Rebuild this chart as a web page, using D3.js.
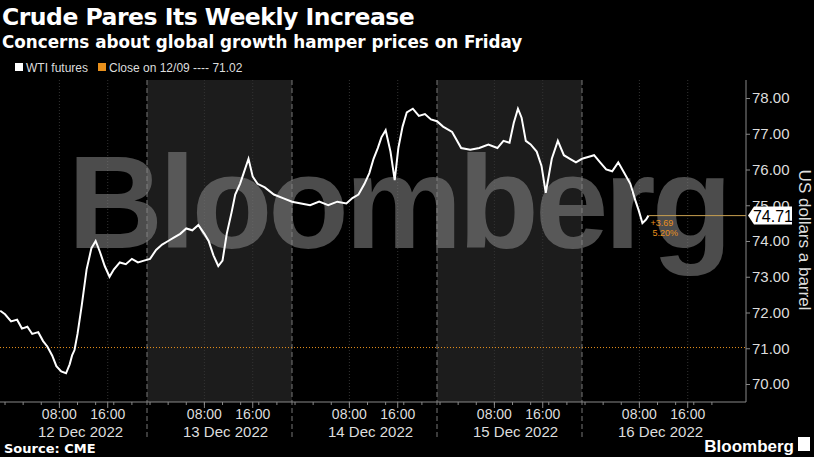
<!DOCTYPE html><html><head><meta charset="utf-8"><script src="https://cdn.jsdelivr.net/npm/d3@7"></script>
<style>body{margin:0;background:#000}</style></head><body><svg id="c" width="814" height="457"></svg>
<script>
// hours since 12 Dec session start, price
const hours=[-0.3,0.5,1.5,2.5,3.3,4.2,5,6,6.8,7.5,8.3,9,9.8,10.6,11.2,11.6,12,12.5,13.2,14,14.8,15.5,16.2,17,17.8,18.5,19.5,20.5,21.5,22.5,23.5,24.5,25.5,26.5,27.5,28.5,29.5,30.5,31.5,32.5,33.5,34.2,35,35.8,36.5,37.2,38,38.6,39.4,40,40.8,41.5,42.3,43.5,45,46.5,48,49.5,51,52.5,54,55.5,57,58,59,60,60.8,61.5,62.2,62.8,63.5,64.3,65,65.6,66.3,67,68,69,70,71,72,73,74.5,76,77.5,79,80.5,82,83,84,84.7,85.4,86,86.7,87.5,88.5,89.3,90,91,92,93,94,95,96,97,98,99,100,101,102,103,104,104.8,105.4,106,106.6,107];
const prices=[72.05,71.95,71.75,71.8,71.55,71.6,71.4,71.45,71.2,71.05,70.8,70.5,70.35,70.3,70.55,70.8,70.95,71.4,72.2,73.2,73.8,74.0,73.7,73.3,73.0,73.2,73.4,73.35,73.5,73.4,73.45,73.5,73.75,73.9,74.0,74.1,74.2,74.35,74.3,74.45,74.2,74.0,73.6,73.3,73.45,74.2,74.8,75.3,75.6,75.9,76.3,75.8,75.6,75.5,75.3,75.2,75.1,75.05,75.0,75.1,75.0,75.1,75.05,75.2,75.3,75.6,75.9,76.3,76.6,76.9,77.1,76.5,75.7,76.6,77.2,77.6,77.7,77.5,77.55,77.4,77.35,77.2,77.05,76.6,76.55,76.6,76.7,76.6,76.8,76.75,77.3,77.7,77.45,76.8,76.7,76.5,76.1,75.35,76.3,76.8,76.4,76.3,76.2,76.3,76.35,76.4,76.2,76.0,75.95,76.2,75.9,75.6,75.15,74.85,74.5,74.6,74.71];
const yTicks=[70,71,72,73,74,75,76,77,78];
const days=["12 Dec 2022","13 Dec 2022","14 Dec 2022","15 Dec 2022","16 Dec 2022"];
const closePrev=71.02, last=74.71, lastH=107;
const svg=d3.select("#c"), W=746, T=80, B=402;
svg.append("rect").attr("width",814).attr("height",457).attr("fill","#000");
const x=d3.scaleLinear().domain([0,24]).range([2,147]);
const y=d3.scaleLinear().domain([70,78]).range([384,98]);
[1,3].forEach(i=>svg.append("rect").attr("x",x(24*i)).attr("y",T).attr("width",x(24)-x(0)).attr("height",B-T).attr("fill","#1c1c1c"));
[1,2,3,4].forEach(i=>svg.append("line").attr("x1",x(24*i)).attr("x2",x(24*i)).attr("y1",T).attr("y2",B+36).attr("stroke","#777").attr("stroke-dasharray","5,3"));
days.forEach((d,i)=>[9.5,17.5].forEach(h=>svg.append("line").attr("x1",x(24*i+h)).attr("x2",x(24*i+h)).attr("y1",T).attr("y2",B).attr("stroke","#333").attr("stroke-dasharray","1,2")));
svg.append("text").attr("x",398).attr("y",248).attr("text-anchor","middle").attr("font-family","Liberation Sans,Arial").attr("font-weight","bold").attr("font-size",132).attr("fill","#8a8a8a").attr("opacity",0.55).attr("letter-spacing",-4).text("Bloomberg");
svg.append("line").attr("x1",0).attr("x2",W).attr("y1",y(closePrev)).attr("y2",y(closePrev)).attr("stroke","#e8901c").attr("stroke-dasharray","1,2");
svg.append("line").attr("x1",x(lastH)).attr("x2",W).attr("y1",y(last)).attr("y2",y(last)).attr("stroke","#c8a050").attr("stroke-width",1);
svg.append("path").datum(hours.map((h,i)=>[h,prices[i]])).attr("d",d3.line().x(d=>x(d[0])).y(d=>y(d[1]))).attr("fill","none").attr("stroke","#fff").attr("stroke-width",2);
svg.append("text").attr("x",x(lastH)+2).attr("y",y(last)+10).attr("fill","#e8901c").attr("font-size",9).attr("font-family","Liberation Sans").text("+3.69");
svg.append("text").attr("x",x(lastH)+4).attr("y",y(last)+20).attr("fill","#e8901c").attr("font-size",9).attr("font-family","Liberation Sans").text("5.20%");
const ya=svg.append("g").attr("transform",`translate(${W},0)`).call(d3.axisRight(y).tickValues(yTicks).tickFormat(d3.format(".2f")).tickSize(4));
ya.select(".domain").attr("stroke","#888").attr("d",`M0,${T}V${B}`);
ya.selectAll("line").attr("stroke","#888");
ya.selectAll("text").attr("fill","#ddd").attr("font-size",15).attr("font-family","Liberation Sans Narrow,Liberation Sans").attr("x",6);
const lg=svg.append("g").attr("transform",`translate(${W+2},${y(last)})`);
lg.append("path").attr("d","M0,0L6,-9H44V9H6Z").attr("fill","#fff");
lg.append("text").attr("x",25).attr("y",6).attr("text-anchor","middle").attr("font-size",16).attr("font-family","Liberation Sans Narrow,Liberation Sans").text("74.71");
svg.append("text").attr("transform","translate(799,240) rotate(90)").attr("text-anchor","middle").attr("fill","#ddd").attr("font-size",17).attr("font-family","Liberation Sans").text("US dollars a barrel");
svg.append("line").attr("x1",0).attr("x2",W).attr("y1",B).attr("y2",B).attr("stroke","#888");
const ticks=[];days.forEach((d,i)=>{for(let h=0;h<24;h+=3)ticks.push(24*i+h+0.5);});
svg.selectAll(".mt").data(ticks).enter().append("line").attr("x1",d=>x(d)).attr("x2",d=>x(d)).attr("y1",B).attr("y2",B+3).attr("stroke","#888");
days.forEach((d,i)=>{
 [[9.5,"08:00"],[17.5,"16:00"]].forEach(([h,t])=>{
  svg.append("line").attr("x1",x(24*i+h)).attr("x2",x(24*i+h)).attr("y1",B).attr("y2",B+6).attr("stroke","#888");
  svg.append("text").attr("x",x(24*i+h)).attr("y",B+17).attr("text-anchor","middle").attr("fill","#ddd").attr("font-size",14).attr("font-family","Liberation Sans Narrow,Liberation Sans").text(t);});
 svg.append("text").attr("x",x(24*i+13)).attr("y",B+35).attr("text-anchor","middle").attr("fill","#ddd").attr("font-size",15).attr("font-family","Liberation Sans Narrow,Liberation Sans").text(d);
});
svg.append("text").attr("x",2).attr("y",25).attr("fill","#fff").attr("font-size",23.5).attr("font-weight","bold").attr("font-family","DejaVu Sans").attr("letter-spacing",-0.5).text("Crude Pares Its Weekly Increase");
svg.append("text").attr("x",2).attr("y",48).attr("fill","#fff").attr("font-size",16.8).attr("font-weight","bold").attr("font-family","DejaVu Sans").text("Concerns about global growth hamper prices on Friday");
svg.append("rect").attr("x",15).attr("y",63).attr("width",8).attr("height",8).attr("fill","#fff");
svg.append("text").attr("x",26).attr("y",72).attr("fill","#ddd").attr("font-size",12).attr("font-family","Liberation Sans").text("WTI futures");
svg.append("rect").attr("x",98).attr("y",63).attr("width",8).attr("height",8).attr("fill","#e8901c");
svg.append("text").attr("x",109).attr("y",72).attr("fill","#ddd").attr("font-size",12).attr("font-family","Liberation Sans").text("Close on 12/09 ---- 71.02");
svg.append("text").attr("x",4).attr("y",453).attr("fill","#fff").attr("font-size",13).attr("font-weight","bold").attr("font-family","DejaVu Sans").text("Source: CME");
svg.append("text").attr("x",794).attr("y",452).attr("text-anchor","end").attr("fill","#fff").attr("font-size",17).attr("font-weight","bold").attr("font-family","Liberation Sans Narrow,Liberation Sans").text("Bloomberg");
svg.append("rect").attr("x",798).attr("y",437).attr("width",12).attr("height",14).attr("fill","#fff");
</script></body></html>
